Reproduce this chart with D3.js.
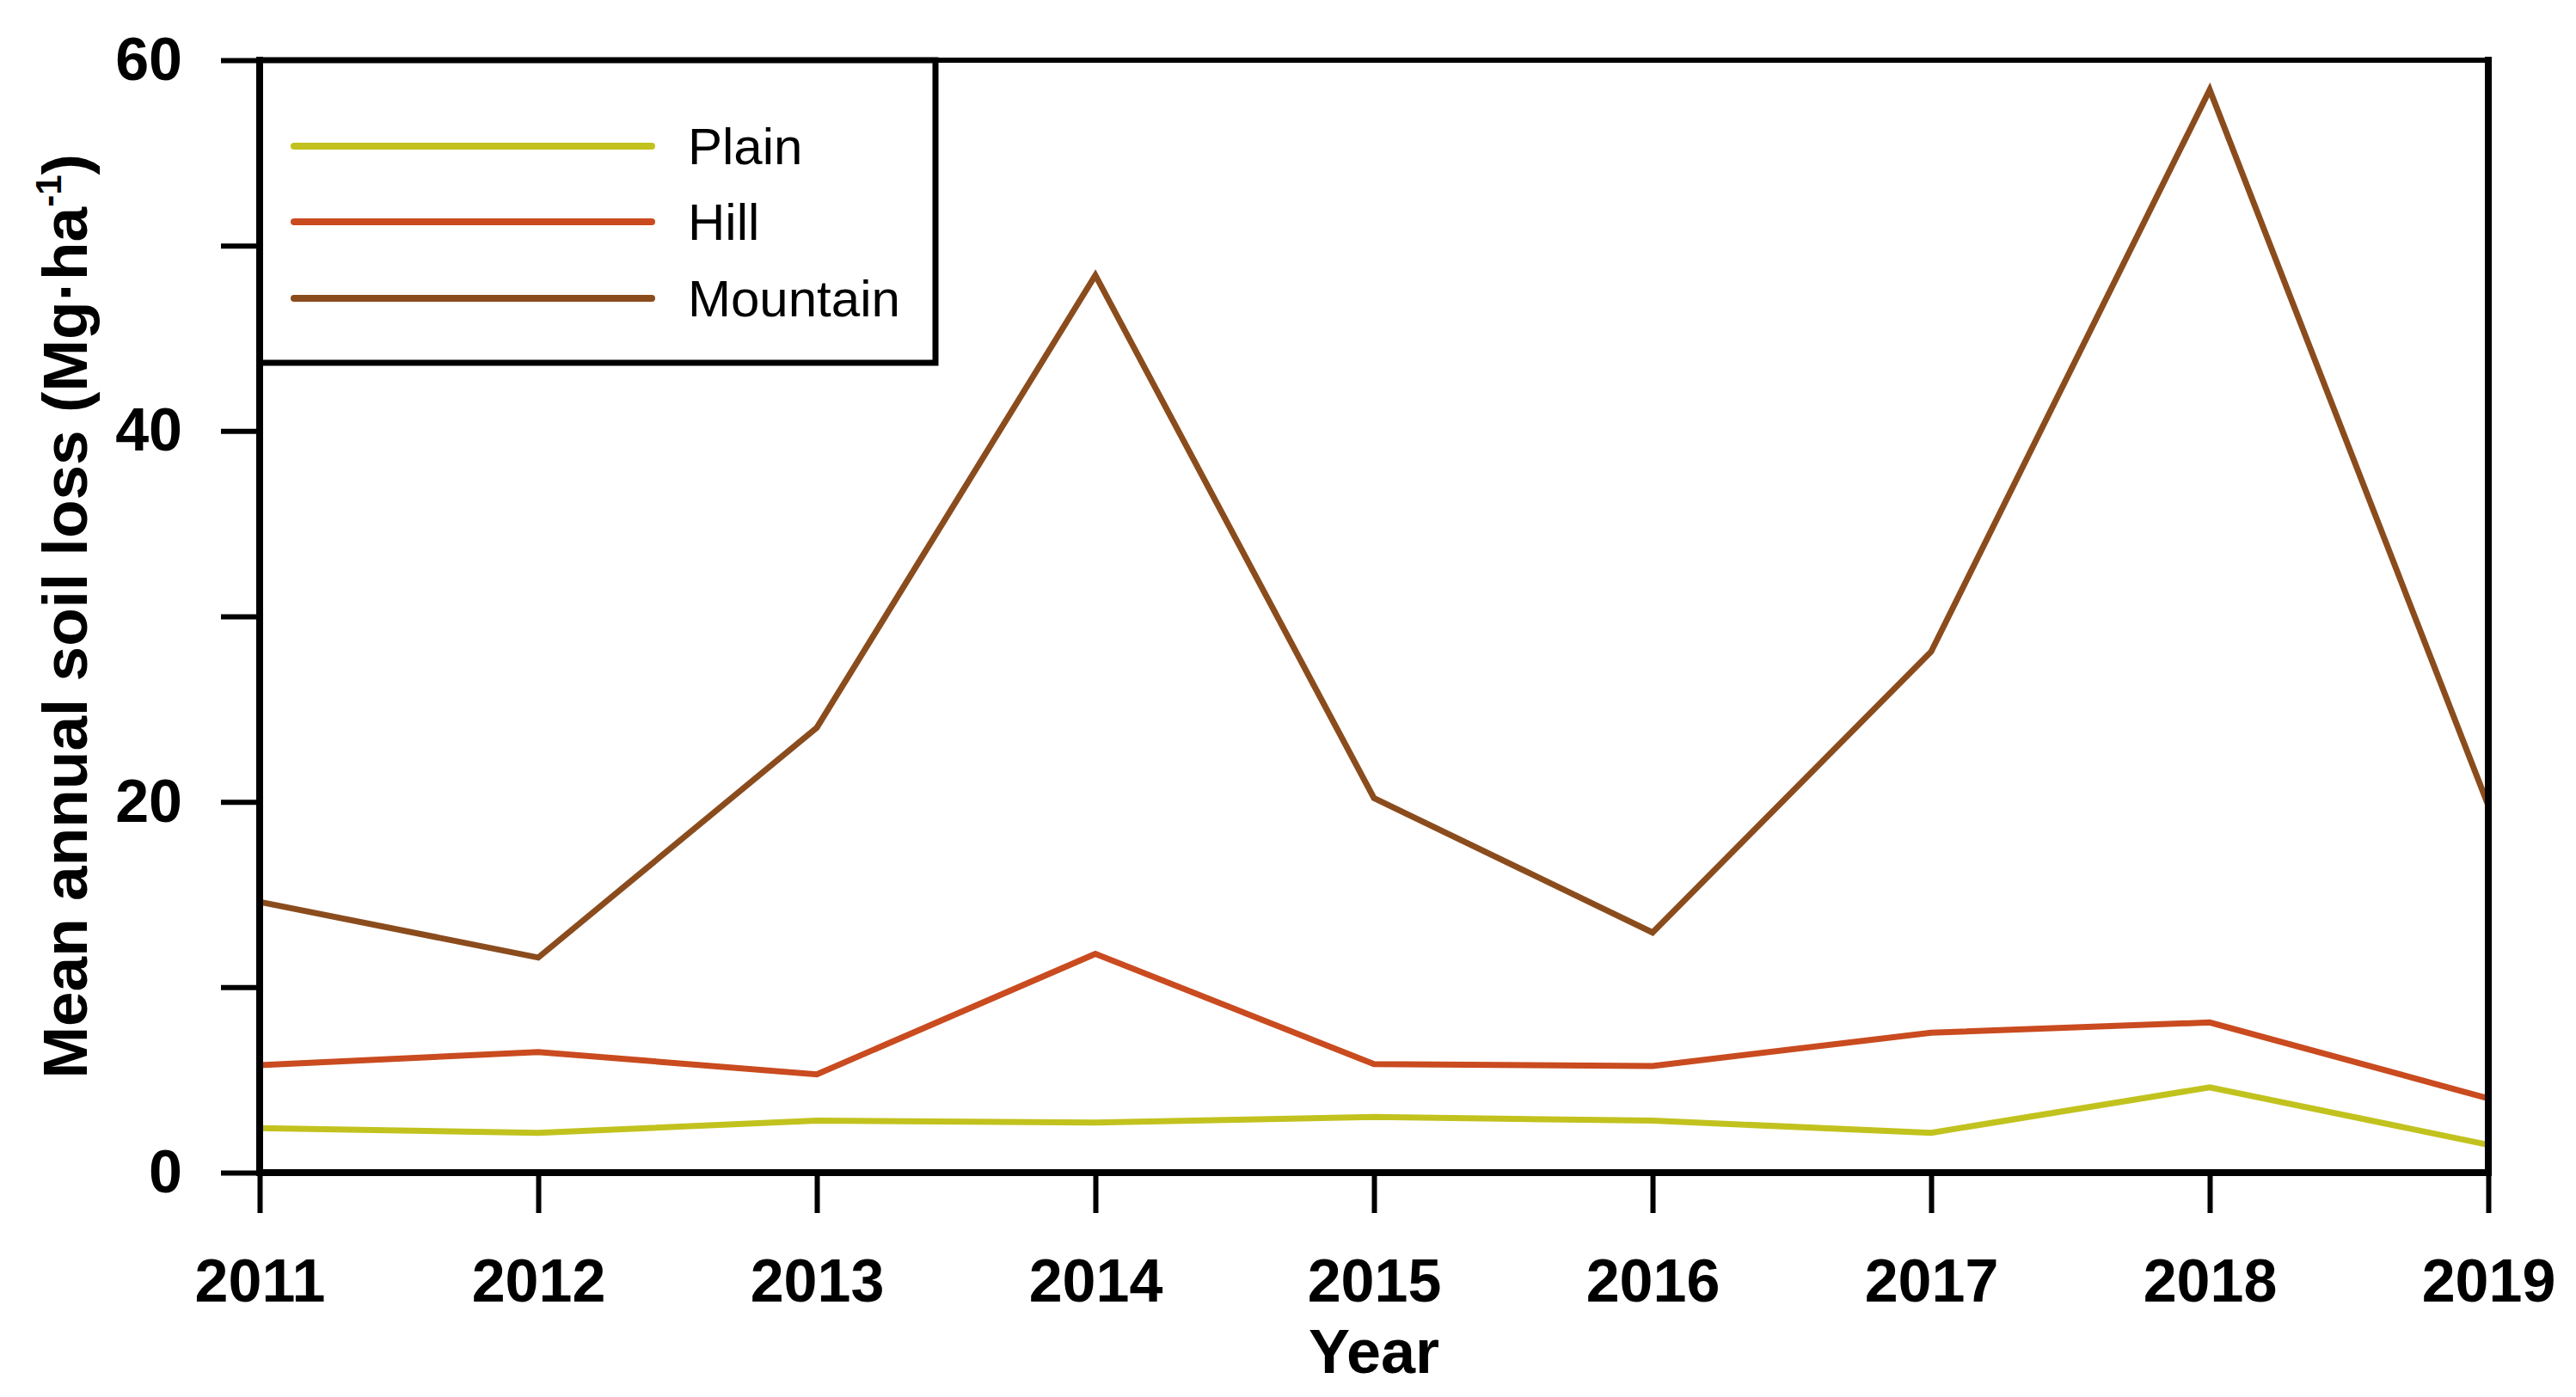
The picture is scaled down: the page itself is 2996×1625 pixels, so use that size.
<!DOCTYPE html>
<html>
<head>
<meta charset="utf-8">
<script src="https://cdn.jsdelivr.net/npm/d3@7"></script>
<style>
  html, body { margin: 0; padding: 0; background: #fff; }
  svg { display: block; font-family: "Liberation Sans", Arial, sans-serif; }
</style>
</head>
<body>
<svg id="chart" width="2996" height="1625"></svg>
<script>
// ---- data ----
const years = [2011, 2012, 2013, 2014, 2015, 2016, 2017, 2018, 2019];
const plain    = [2.4, 2.15, 2.8, 2.7, 3.0, 2.8, 2.15, 4.6, 1.5];
const hill     = [5.8, 6.5, 5.3, 11.8, 5.85, 5.75, 7.55, 8.1, 4.0];
const mountain = [14.6, 11.6, 24.0, 48.4, 20.2, 12.95, 28.1, 58.4, 19.8];
const seriesNames = ["Plain", "Hill", "Mountain"];
const seriesColors = ["#c2c21f", "#c94b1f", "#8b4c1d"];
const yTicks = [0, 10, 20, 30, 40, 50, 60];
const yLabeled = [0, 20, 40, 60];

const seriesData = [plain, hill, mountain];

const svg = d3.select("#chart");
const pLeft = 302, pRight = 2894, pTop = 70, pBottom = 1364;

const x = d3.scaleLinear().domain([2011, 2019]).range([pLeft, pRight]);
const y = d3.scaleLinear().domain([0, 60]).range([pBottom, pTop]);

// ---- lines ----
const line = d3.line().x((d, i) => x(years[i])).y(d => y(d));
seriesData.forEach((s, k) => {
  svg.append("path")
    .datum(s)
    .attr("d", line)
    .attr("fill", "none")
    .attr("stroke", seriesColors[k])
    .attr("stroke-width", 7)
    .attr("stroke-linejoin", "miter");
});

// ---- legend ----
const lg = svg.append("g");
lg.append("rect")
  .attr("x", pLeft).attr("y", pTop)
  .attr("width", 1088 - pLeft).attr("height", 422 - pTop)
  .attr("fill", "#fff").attr("stroke", "#000").attr("stroke-width", 7);
const legendY = [170, 258, 347];
seriesNames.forEach((n, k) => {
  lg.append("line")
    .attr("x1", 342).attr("x2", 758)
    .attr("y1", legendY[k]).attr("y2", legendY[k])
    .attr("stroke", seriesColors[k]).attr("stroke-width", 8)
    .attr("stroke-linecap", "round");
  lg.append("text")
    .attr("x", 800).attr("y", legendY[k] + 21)
    .attr("font-size", 60).attr("fill", "#000")
    .text(n);
});

// ---- axes ----
const yAxis = d3.axisLeft(y)
  .tickValues(yTicks)
  .tickSize(45)
  .tickPadding(45)
  .tickFormat(d => yLabeled.includes(d) ? d : "");
const gy = svg.append("g").attr("transform", `translate(${pLeft},0)`).call(yAxis);
gy.select(".domain").remove();
gy.selectAll(".tick line").attr("stroke", "#000").attr("stroke-width", 6);
gy.selectAll(".tick text")
  .attr("font-size", 70).attr("font-weight", "bold").attr("fill", "#000")
  .attr("font-family", "Liberation Sans, Arial, sans-serif");

const xAxis = d3.axisBottom(x)
  .tickValues(years)
  .tickSize(47)
  .tickPadding(53)
  .tickFormat(d3.format("d"));
const gx = svg.append("g").attr("transform", `translate(0,${pBottom})`).call(xAxis);
gx.select(".domain").remove();
gx.selectAll(".tick line").attr("stroke", "#000").attr("stroke-width", 6);
gx.selectAll(".tick text")
  .attr("font-size", 70).attr("font-weight", "bold").attr("fill", "#000")
  .attr("font-family", "Liberation Sans, Arial, sans-serif");

// ---- frame ----
const frame = svg.append("g").attr("stroke", "#000").attr("stroke-linecap", "square");
frame.append("line").attr("x1", pLeft).attr("x2", pRight).attr("y1", pTop).attr("y2", pTop).attr("stroke-width", 6);
frame.append("line").attr("x1", pLeft).attr("x2", pRight).attr("y1", pBottom).attr("y2", pBottom).attr("stroke-width", 8);
frame.append("line").attr("x1", pLeft).attr("x2", pLeft).attr("y1", pTop).attr("y2", pBottom).attr("stroke-width", 8);
frame.append("line").attr("x1", pRight).attr("x2", pRight).attr("y1", pTop).attr("y2", pBottom).attr("stroke-width", 8);

// ---- titles ----
svg.append("text")
  .attr("x", (pLeft + pRight) / 2).attr("y", 1597)
  .attr("text-anchor", "middle")
  .attr("font-size", 72).attr("font-weight", "bold")
  .text("Year");

const yt = svg.append("text")
  .attr("transform", `translate(101,${(pTop + pBottom) / 2}) rotate(-90)`)
  .attr("text-anchor", "middle")
  .attr("font-size", 73).attr("font-weight", "bold");
yt.append("tspan").text("Mean annual soil loss (Mg·ha");
yt.append("tspan").attr("font-size", 42).attr("dy", -30).text("-1");
yt.append("tspan").attr("dy", 30).text(")");
</script>
</body>
</html>
